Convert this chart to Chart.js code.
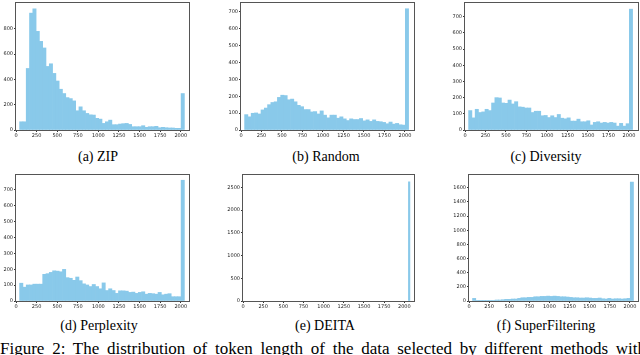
<!DOCTYPE html>
<html>
<head>
<meta charset="utf-8">
<script src="https://cdn.jsdelivr.net/npm/chart.js@4.4.1/dist/chart.umd.min.js"></script>
<style>
  body { margin: 0; background: #fff; }
  #fig { position: relative; width: 640px; height: 355px; overflow: hidden; background: #fff; }
  canvas { position: absolute; }
  .cap { position: absolute; font-family: "Liberation Serif", "Times New Roman", Times, serif; font-size: 14px; line-height: 16px; color: #000; white-space: nowrap; transform: translateX(-50%); }
  #figcap { position: absolute; left: 0; top: 339px; width: 646px; font-family: "Liberation Serif", "Times New Roman", Times, serif; font-size: 17px; line-height: 20px; white-space: nowrap; text-align: justify; text-align-last: justify; color: #000; }
</style>
</head>
<body>
<div id="fig">
  <canvas id="cA"></canvas>
  <canvas id="cB"></canvas>
  <canvas id="cC"></canvas>
  <canvas id="cD"></canvas>
  <canvas id="cE"></canvas>
  <canvas id="cF"></canvas>
  <div class="cap" style="left:98px;top:149px">(a) ZIP</div>
  <div class="cap" style="left:326px;top:149px">(b) Random</div>
  <div class="cap" style="left:546px;top:149px">(c) Diversity</div>
  <div class="cap" style="left:99px;top:318px">(d) Perplexity</div>
  <div class="cap" style="left:325px;top:318px">(e) DEITA</div>
  <div class="cap" style="left:546px;top:318px">(f) SuperFiltering</div>
  <div id="figcap">Figure 2: The distribution of token length of the data selected by different methods with</div>
</div>
<script>
// histogram bins (token length), 50 bins
var binCenters = [64, 104, 144, 184, 224, 264, 304, 344, 384, 424,
                  464, 504, 544, 584, 624, 664, 704, 744, 784, 824,
                  864, 904, 944, 984, 1024, 1064, 1104, 1144, 1184, 1224,
                  1264, 1304, 1344, 1384, 1424, 1464, 1504, 1544, 1584, 1624,
                  1664, 1704, 1744, 1784, 1824, 1864, 1904, 1944, 1984, 2024];

var zipCounts = [65, 65, 486, 923, 957, 779, 700, 648, 502, 523,
                 447, 387, 322, 288, 256, 248, 230, 152, 183, 152,
                 131, 120, 118, 92, 86, 52, 65, 78, 42, 42,
                 47, 50, 52, 44, 26, 26, 26, 34, 21, 26,
                 26, 29, 18, 21, 18, 16, 16, 13, 13, 288];

var randomCounts = [91, 78, 99, 101, 95, 119, 130, 150, 163, 167,
                    193, 206, 204, 179, 183, 167, 146, 138, 121, 121,
                    107, 109, 95, 113, 88, 72, 88, 88, 70, 78,
                    66, 56, 66, 62, 62, 68, 54, 60, 51, 60,
                    51, 49, 45, 37, 47, 35, 39, 31, 29, 718];

var diversityCounts = [120, 75, 128, 108, 112, 128, 120, 167, 200, 198,
                       167, 165, 185, 161, 175, 143, 141, 136, 136, 108,
                       116, 116, 88, 90, 77, 88, 77, 96, 73, 69,
                       75, 55, 55, 67, 51, 51, 57, 31, 47, 51,
                       43, 47, 43, 47, 43, 24, 41, 24, 39, 747];

var perplexityCounts = [112, 87, 101, 101, 106, 106, 106, 168, 172, 180,
                        190, 188, 184, 199, 147, 143, 130, 151, 128, 108,
                        101, 91, 104, 91, 77, 114, 66, 77, 66, 48,
                        64, 64, 62, 54, 56, 48, 54, 58, 43, 48,
                        46, 43, 54, 39, 43, 46, 27, 27, 27, 760];

var superFilteringCounts = [37, 5, 5, 5, 5, 9, 9, 14, 14, 18,
                            23, 23, 28, 28, 37, 46, 46, 51, 51, 60,
                            60, 65, 65, 69, 65, 69, 65, 60, 60, 56,
                            51, 46, 46, 42, 42, 46, 42, 37, 37, 42,
                            32, 28, 37, 28, 32, 32, 28, 32, 37, 1680];

// DEITA: all samples in one narrow bin near the max length
var deitaCenters = [2060];
var deitaCounts = [2620];

var xTicks = [0, 250, 500, 750, 1000, 1250, 1500, 1750, 2000];
var yTicksA = [0, 200, 400, 600, 800];
var yTicks700 = [0, 100, 200, 300, 400, 500, 600, 700];
var yTicksE = [0, 500, 1000, 1500, 2000, 2500];
var yTicksF = [0, 200, 400, 600, 800, 1000, 1200, 1400, 1600];

var barColor = 'rgb(137, 201, 234)';
var YW = 22, PT = 2, PR = 3, XH = 12;

var framePlugin = {
    id: 'frame',
    afterDraw: function (chart) {
        var a = chart.chartArea, ctx = chart.ctx;
        ctx.save();
        ctx.strokeStyle = '#555';
        ctx.lineWidth = 1;
        ctx.strokeRect(Math.round(a.left) - 0.5, Math.round(a.top) - 0.5,
                       Math.round(a.right - a.left) + 1, Math.round(a.bottom - a.top) + 1);
        ctx.restore();
    }
};

function plain(v) { return String(v); }

function makePanel(id, xs, ys, box, xMax, yMax, yTicks, thickness) {
    var canvas = document.getElementById(id);
    var w = box.right - box.left + YW + PR;
    var h = box.bottom - box.top + PT + XH;
    canvas.width = w; canvas.height = h;
    canvas.style.width = w + 'px'; canvas.style.height = h + 'px';
    canvas.style.left = (box.left - YW) + 'px';
    canvas.style.top = (box.top - PT) + 'px';

    var ds = {
        data: xs.map(function (x, i) { return { x: x, y: ys[i] }; }),
        backgroundColor: barColor,
        borderWidth: 0,
        barPercentage: 1,
        categoryPercentage: 1
    };
    if (thickness) ds.barThickness = thickness;

    var tickFont = { family: 'DejaVu Sans', size: 5 };
    new Chart(canvas, {
        type: 'bar',
        data: { datasets: [ds] },
        plugins: [framePlugin],
        options: {
            responsive: false,
            animation: false,
            layout: { padding: { top: PT, right: PR, left: 0, bottom: 0 } },
            plugins: { legend: { display: false }, tooltip: { enabled: false } },
            scales: {
                x: {
                    type: 'linear', min: 0, max: xMax, offset: false,
                    grid: { offset: false, drawOnChartArea: false, tickLength: 2, color: '#333' },
                    border: { display: false },
                    ticks: { font: tickFont, color: '#222', padding: 1, maxRotation: 0, autoSkip: false, callback: plain },
                    afterBuildTicks: function (s) { s.ticks = xTicks.map(function (v) { return { value: v }; }); },
                    afterFit: function (s) { s.height = XH; }
                },
                y: {
                    min: 0, max: yMax,
                    grid: { drawOnChartArea: false, tickLength: 2, color: '#333' },
                    border: { display: false },
                    ticks: { font: tickFont, color: '#222', padding: 1, autoSkip: false, callback: plain },
                    afterBuildTicks: function (s) { s.ticks = yTicks.map(function (v) { return { value: v }; }); },
                    afterFit: function (s) { s.width = YW; }
                }
            }
        }
    });
}

makePanel('cA', binCenters, zipCounts,            { left: 16,  right: 189, top: 1,   bottom: 130 }, 2100, 1003, yTicksA);
makePanel('cB', binCenters, randomCounts,         { left: 241, right: 414, top: 1,   bottom: 130 }, 2110, 752,  yTicks700);
makePanel('cC', binCenters, diversityCounts,      { left: 465, right: 638, top: 1,   bottom: 130 }, 2110, 785,  yTicks700);
makePanel('cD', binCenters, perplexityCounts,     { left: 16,  right: 189, top: 173, bottom: 301 }, 2100, 793,  yTicks700);
makePanel('cE', deitaCenters, deitaCounts,        { left: 243, right: 414, top: 173, bottom: 301 }, 2120, 2770, yTicksE, 1.5);
makePanel('cF', binCenters, superFilteringCounts, { left: 469, right: 638, top: 173, bottom: 301 }, 2100, 1780, yTicksF);
</script>
</body>
</html>
